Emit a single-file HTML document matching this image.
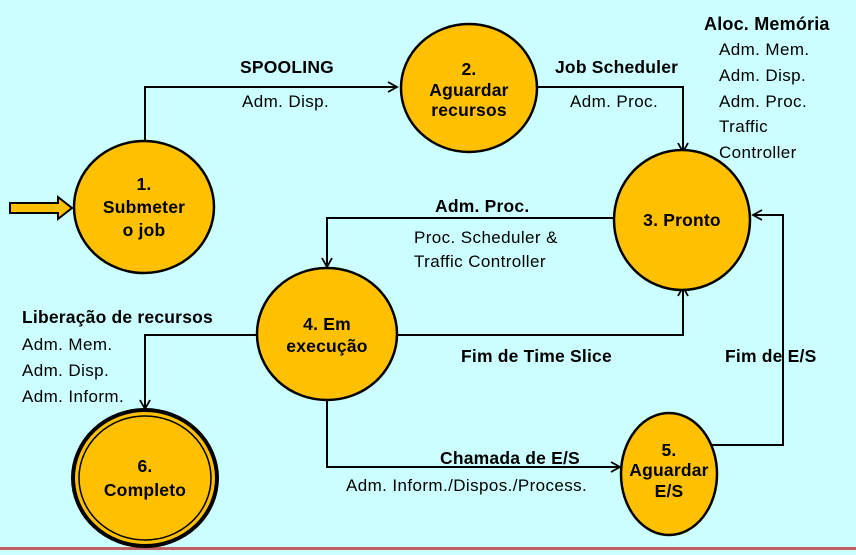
<!DOCTYPE html>
<html><head><style>
body{margin:0;width:856px;height:550px;background:#ccffff;overflow:hidden}
svg text{font-family:"Liberation Sans",sans-serif;font-size:17px;fill:#000;letter-spacing:0.4px}
svg text.b{font-weight:bold;font-size:17.5px;letter-spacing:0.2px}
</style></head><body>
<svg width="856" height="550" viewBox="0 0 856 550">
<defs><marker id="a" markerWidth="12" markerHeight="12" refX="10" refY="6" orient="auto" markerUnits="userSpaceOnUse"><path d="M1,1 L10,6 L1,11" fill="none" stroke="#000" stroke-width="1.8"/></marker></defs>
<rect x="0" y="547" width="856" height="3" fill="#c06060"/>
<g stroke="#000" stroke-width="2" fill="none">
<polyline points="145,142 145,87 397,87" marker-end="url(#a)"/>
<polyline points="537,87 683,87 683,152" marker-end="url(#a)"/>
<polyline points="614,218 327,218 327,267" marker-end="url(#a)"/>
<polyline points="397,335 683,335 683,287" marker-end="url(#a)"/>
<polyline points="257,335 145,335 145,409" marker-end="url(#a)"/>
<polyline points="327,400 327,467 620,467" marker-end="url(#a)"/>
<polyline points="712,445 783,445 783,215 753,215" marker-end="url(#a)"/>
</g>
<path d="M10,203 H58 V197 L72,208 L58,219 V213 H10 Z" fill="#ffc000" stroke="#000" stroke-width="2"/>
<g fill="#ffc000" stroke="#000" stroke-width="2.5">
<ellipse cx="144" cy="207" rx="70" ry="66"/>
<ellipse cx="469" cy="88" rx="68" ry="64"/>
<ellipse cx="682" cy="220" rx="68" ry="70"/>
<ellipse cx="327" cy="334" rx="70" ry="66"/>
<ellipse cx="669" cy="474" rx="48" ry="61"/>
<ellipse cx="145" cy="478" rx="72" ry="68" stroke-width="4"/>
<ellipse cx="145" cy="478" rx="66" ry="62" stroke-width="1.5"/>
</g>
<g text-anchor="middle">
<text x="144" y="190" class="b">1.</text><text x="144" y="213" class="b">Submeter</text><text x="144" y="236" class="b">o job</text>
<text x="469" y="75" class="b">2.</text><text x="469" y="96" class="b">Aguardar</text><text x="469" y="116" class="b">recursos</text>
<text x="682" y="226" class="b">3. Pronto</text>
<text x="327" y="330" class="b">4. Em</text><text x="327" y="352" class="b">execução</text>
<text x="669" y="456" class="b">5.</text><text x="669" y="476" class="b">Aguardar</text><text x="669" y="497" class="b">E/S</text>
<text x="145" y="472" class="b">6.</text><text x="145" y="496" class="b">Completo</text>
</g>
<text x="240" y="73" class="b">SPOOLING</text>
<text x="242" y="107">Adm. Disp.</text>
<text x="555" y="73" class="b">Job Scheduler</text>
<text x="570" y="107">Adm. Proc.</text>
<text x="704" y="30" class="b" style="font-size:18px">Aloc. Memória</text>
<text x="719" y="55">Adm. Mem.</text>
<text x="719" y="81">Adm. Disp.</text>
<text x="719" y="107">Adm. Proc.</text>
<text x="719" y="132">Traffic</text>
<text x="719" y="158">Controller</text>
<text x="435" y="212" class="b">Adm. Proc.</text>
<text x="414" y="243">Proc. Scheduler &amp;</text>
<text x="414" y="267">Traffic Controller</text>
<text x="22" y="323" class="b">Liberação de recursos</text>
<text x="22" y="350">Adm. Mem.</text>
<text x="22" y="376">Adm. Disp.</text>
<text x="22" y="402">Adm. Inform.</text>
<text x="461" y="362" class="b">Fim de Time Slice</text>
<text x="725" y="362" class="b">Fim de E/S</text>
<text x="440" y="464" class="b">Chamada de E/S</text>
<text x="346" y="491">Adm. Inform./Dispos./Process.</text>
</svg>
</body></html>
